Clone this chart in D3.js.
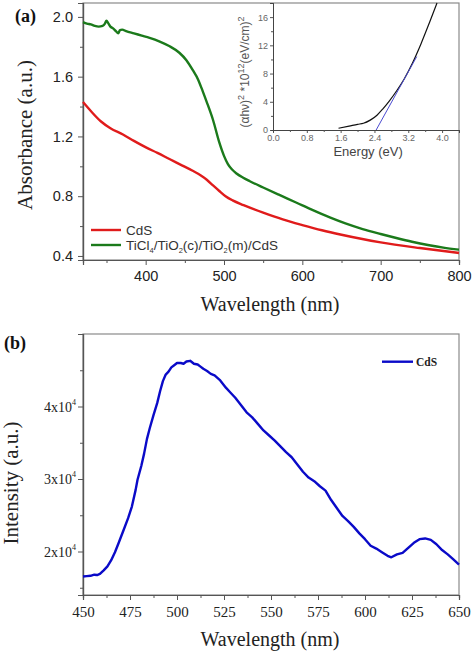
<!DOCTYPE html>
<html><head><meta charset="utf-8">
<script src="https://cdn.jsdelivr.net/npm/d3@7"></script>
<style>body{margin:0;background:#fff}svg{display:block}</style>
</head><body>
<svg id="c" width="474" height="652"></svg>
<script>
// ---------- data ----------
const cdsAbs = [[320,1.43],[330,1.37],[343,1.30],[355,1.255],[371,1.213],[385,1.17],[401,1.125],[415,1.09],[431,1.047],[445,1.01],[460,0.97],[470,0.94],[478,0.91],[486,0.872],[494,0.835],[502,0.80],[511,0.772],[525,0.74],[550,0.69],[575,0.645],[600,0.607],[625,0.572],[650,0.542],[675,0.515],[700,0.491],[750,0.453],[800,0.42]];
const tioAbs = [[320,1.965],[325,1.955],[330,1.95],[335,1.94],[340,1.935],[345,1.94],[348,1.955],[350,1.975],[352,1.96],[355,1.935],[358,1.925],[362,1.905],[365,1.89],[367,1.91],[370,1.915],[375,1.905],[385,1.89],[395,1.875],[405,1.86],[418,1.835],[430,1.805],[443,1.76],[452,1.71],[460,1.645],[467,1.58],[473,1.50],[478,1.43],[486,1.31],[494,1.16],[500,1.07],[505,1.015],[510,0.98],[516,0.952],[524,0.925],[533,0.90],[550,0.858],[570,0.81],[592,0.758],[612,0.71],[635,0.658],[655,0.618],[677,0.58],[700,0.547],[720,0.52],[740,0.495],[762,0.472],[780,0.456],[800,0.442]];
const tauc = [[1.55,0.25],[1.8,0.55],[2.0,0.8],[2.14,0.95],[2.3,1.4],[2.46,2.1],[2.6,3.0],[2.75,4.1],[2.93,5.6],[3.1,7.2],[3.3,9.5],[3.5,12.2],[3.7,15.2],[3.88,18]];
const taucFit = [[2.44,0],[3.4,10.4]];
const plCdS = [[450,16550],[452,16600],[454,16650],[456,16800],[457.5,16750],[459,16900],[461,17400],[463,17950],[465,18800],[467,19900],[469,21200],[471.5,22900],[474,24600],[476,26200],[478,28500],[479,29900],[481,31800],[482.5,33500],[484,35500],[485.5,37000],[487.5,38800],[489.5,40500],[491,42100],[492.5,43500],[494,44400],[495.5,44800],[497,45400],[498.5,45700],[500,46000],[502,46000],[503.5,45900],[505,46200],[507,46300],[509,45900],[511,45800],[512.5,45500],[514,45200],[516,44900],[518,44500],[520,44300],[523,43600],[526,42600],[528.5,41900],[531,41200],[534,40200],[537,39200],[540,38500],[543,37600],[546,36700],[549,36000],[552,35300],[555,34500],[558,33700],[561,33000],[564,32000],[567,31000],[570,30200],[573,29700],[576,29000],[579,28400],[582,27100],[585,26000],[588,24900],[591,24200],[594,23400],[597,22500],[600,21700],[603,20800],[606,20400],[609,19900],[612,19400],[614,19200],[617,19600],[620,19800],[623,20500],[626,21200],[629,21700],[632,21800],[635,21600],[638,21000],[641,20200],[644,19600],[647,18900],[650,18200]];
const absYTicks = [0.4,0.8,1.2,1.6,2.0];
const absXTicks = [400,500,600,700,800];
const taucXTicks = [0.0,0.8,1.6,2.4,3.2,4.0];
const taucYTicks = [0,4,8,12,16];
const plXTicks = [450,475,500,525,550,575,600,625,650];
const plYTicks = [20000,30000,40000];

const SANS = "'Liberation Sans', Arial, sans-serif";
const SERIF = "'Liberation Serif', 'Times New Roman', serif";
const svg = d3.select("#c");

// ---------- panel (a) ----------
const xa = d3.scaleLinear().domain([320,800]).range([83,459]);
const ya = d3.scaleLinear().domain([0.373,2.093]).range([260,3]);

const ga = svg.append("g");
ga.append("rect").attr("x",83).attr("y",3).attr("width",376).attr("height",257).attr("fill","none").attr("stroke","#8a8a8a").attr("stroke-width",1.2);

const axAy = ga.append("g").attr("transform","translate(83,0)").call(d3.axisLeft(ya).tickValues(absYTicks).tickFormat(d3.format(".1f")).tickSize(5));
const axAyMinor = ga.append("g").attr("transform","translate(83,0)").call(d3.axisLeft(ya).tickValues([0.6,1.0,1.4,1.8]).tickFormat("").tickSize(3));
const axAx = ga.append("g").attr("transform","translate(0,260)").call(d3.axisBottom(xa).tickValues(absXTicks).tickSize(5).tickPadding(6));
const axAxMinor = ga.append("g").attr("transform","translate(0,260)").call(d3.axisBottom(xa).tickValues([350,450,550,650,750]).tickFormat("").tickSize(3));
[axAy,axAyMinor,axAx,axAxMinor].forEach(g=>{
  g.select(".domain").attr("stroke","#555").attr("stroke-width",1.2);
  g.selectAll(".tick line").attr("stroke","#555");
  g.selectAll("text").attr("font-family",SANS).attr("font-size",14.5).attr("fill","#222");
});
axAy.selectAll("text").attr("dx",-2);

const lineA = d3.line().x(d=>xa(d[0])).y(d=>ya(d[1])).curve(d3.curveMonotoneX);
ga.append("path").datum(cdsAbs).attr("d",lineA).attr("fill","none").attr("stroke","#e01b1b").attr("stroke-width",2.4);
ga.append("path").datum(tioAbs).attr("d",lineA).attr("fill","none").attr("stroke","#1b7a1b").attr("stroke-width",2.4);

// legend (a)
ga.append("line").attr("x1",91).attr("x2",121).attr("y1",230).attr("y2",230).attr("stroke","#e01b1b").attr("stroke-width",2.4);
ga.append("text").attr("x",126).attr("y",235).attr("font-family",SANS).attr("font-size",13.5).attr("fill","#333").text("CdS");
ga.append("line").attr("x1",91).attr("x2",121).attr("y1",245).attr("y2",245).attr("stroke","#1b7a1b").attr("stroke-width",2.4);
const lg = ga.append("text").attr("x",126).attr("y",250).attr("font-family",SANS).attr("font-size",13.5).attr("fill","#333");
const segs = [["TiCl",0],["4",1],["/TiO",0],["2",1],["(c)/TiO",0],["2",1],["(m)/CdS",0]];
segs.forEach((s,i)=>{
  const t = lg.append("tspan").text(s[0]);
  if(s[1]) t.attr("font-size",7.5).attr("dy",3);
  else if(i>0) t.attr("dy",-3);
});

ga.append("text").attr("transform","translate(32,135) rotate(-90)").attr("text-anchor","middle").attr("font-family",SERIF).attr("font-size",21).attr("fill","#222").text("Absorbance (a.u.)");
ga.append("text").attr("x",270).attr("y",311).attr("text-anchor","middle").attr("font-family",SERIF).attr("font-size",20).attr("fill","#222").text("Wavelength (nm)");
ga.append("text").attr("x",15).attr("y",22).attr("font-family",SERIF).attr("font-size",18).attr("font-weight","bold").attr("fill","#111").text("(a)");

// ---------- inset ----------
const xi = d3.scaleLinear().domain([0,4.4]).range([273,459]);
const yi = d3.scaleLinear().domain([0,18]).range([130,3]);
const gi = svg.append("g");
const axIy = gi.append("g").attr("transform","translate(273,0)").call(d3.axisLeft(yi).tickValues(taucYTicks).tickSize(3).tickPadding(2));
const axIyMinor = gi.append("g").attr("transform","translate(273,0)").call(d3.axisLeft(yi).tickValues([2,6,10,14]).tickFormat("").tickSize(2));
const axIx = gi.append("g").attr("transform","translate(0,130)").call(d3.axisBottom(xi).tickValues(taucXTicks).tickFormat(d3.format(".1f")).tickSize(3).tickPadding(2));
const axIxMinor = gi.append("g").attr("transform","translate(0,130)").call(d3.axisBottom(xi).tickValues([0.4,1.2,2.0,2.8,3.6]).tickFormat("").tickSize(2));
[axIy,axIyMinor,axIx,axIxMinor].forEach(g=>{
  g.select(".domain").attr("stroke","#444").attr("stroke-width",1);
  g.selectAll(".tick line").attr("stroke","#555");
  g.selectAll("text").attr("font-family",SANS).attr("font-size",9).attr("fill","#666");
});
const lineI = d3.line().x(d=>xi(d[0])).y(d=>yi(d[1])).curve(d3.curveMonotoneX);
gi.append("path").datum(tauc).attr("d",lineI).attr("fill","none").attr("stroke","#111").attr("stroke-width",1.2);
gi.append("path").datum(taucFit).attr("d",lineI).attr("fill","none").attr("stroke","#4a4ad0").attr("stroke-width",1);
gi.append("text").attr("x",xi(2.25)).attr("y",156).attr("text-anchor","middle").attr("font-family",SANS).attr("font-size",13).attr("fill","#444").text("Energy (eV)");
const il = gi.append("text").attr("transform","translate(249,72) rotate(-90)").attr("text-anchor","middle").attr("font-family",SANS).attr("font-size",12).attr("fill","#555");
il.append("tspan").text("(αhν)");
il.append("tspan").attr("font-size",9).attr("dy",-5).text("2");
il.append("tspan").attr("dy",5).text(" *10");
il.append("tspan").attr("font-size",9).attr("dy",-5).text("12");
il.append("tspan").attr("dy",5).text("(eV/cm)");
il.append("tspan").attr("font-size",9).attr("dy",-5).text("2");

// ---------- panel (b) ----------
const xb = d3.scaleLinear().domain([450,650]).range([83,459]);
const yb = d3.scaleLinear().domain([14000,50000]).range([595,334]);
const gb = svg.append("g");
gb.append("rect").attr("x",83).attr("y",334).attr("width",376).attr("height",261).attr("fill","none").attr("stroke","#8a8a8a").attr("stroke-width",1.2);
const axBy = gb.append("g").attr("transform","translate(83,0)").call(d3.axisLeft(yb).tickValues(plYTicks).tickFormat("").tickSize(5));
const axByMinor = gb.append("g").attr("transform","translate(83,0)").call(d3.axisLeft(yb).tickValues([15000,25000,35000,45000]).tickFormat("").tickSize(3));
const axBx = gb.append("g").attr("transform","translate(0,595)").call(d3.axisBottom(xb).tickValues(plXTicks).tickSize(5).tickPadding(6));
const axBxMinor = gb.append("g").attr("transform","translate(0,595)").call(d3.axisBottom(xb).tickValues(d3.range(462.5,650,25)).tickFormat("").tickSize(3));
[axBy,axByMinor,axBx,axBxMinor].forEach(g=>{
  g.select(".domain").attr("stroke","#555").attr("stroke-width",1.2);
  g.selectAll(".tick line").attr("stroke","#555");
  g.selectAll("text").attr("font-family",SERIF).attr("font-size",15).attr("fill","#222");
});
plYTicks.forEach(v=>{
  const t = gb.append("text").attr("x",76).attr("y",yb(v)+5).attr("text-anchor","end").attr("font-family",SERIF).attr("font-size",14).attr("fill","#222");
  t.append("tspan").text((v/10000)+"x10");
  t.append("tspan").attr("font-size",8).attr("dy",-7).text("4");
});
const lineB = d3.line().x(d=>xb(d[0])).y(d=>yb(d[1]));
gb.append("path").datum(plCdS).attr("d",lineB).attr("fill","none").attr("stroke","#0a0ac8").attr("stroke-width",2.4).attr("stroke-linejoin","round");
gb.append("line").attr("x1",382).attr("x2",413).attr("y1",361.7).attr("y2",361.7).attr("stroke","#0a0ac8").attr("stroke-width",2.4);
gb.append("text").attr("x",416).attr("y",366).attr("font-family",SERIF).attr("font-size",11.5).attr("font-weight","bold").attr("fill","#222").text("CdS");
gb.append("text").attr("transform","translate(18,483) rotate(-90)").attr("text-anchor","middle").attr("font-family",SERIF).attr("font-size",21).attr("fill","#222").text("Intensity (a.u.)");
gb.append("text").attr("x",270).attr("y",646).attr("text-anchor","middle").attr("font-family",SERIF).attr("font-size",20).attr("fill","#222").text("Wavelength (nm)");
gb.append("text").attr("x",4).attr("y",349).attr("font-family",SERIF).attr("font-size",18).attr("font-weight","bold").attr("fill","#111").text("(b)");
</script>
</body></html>
